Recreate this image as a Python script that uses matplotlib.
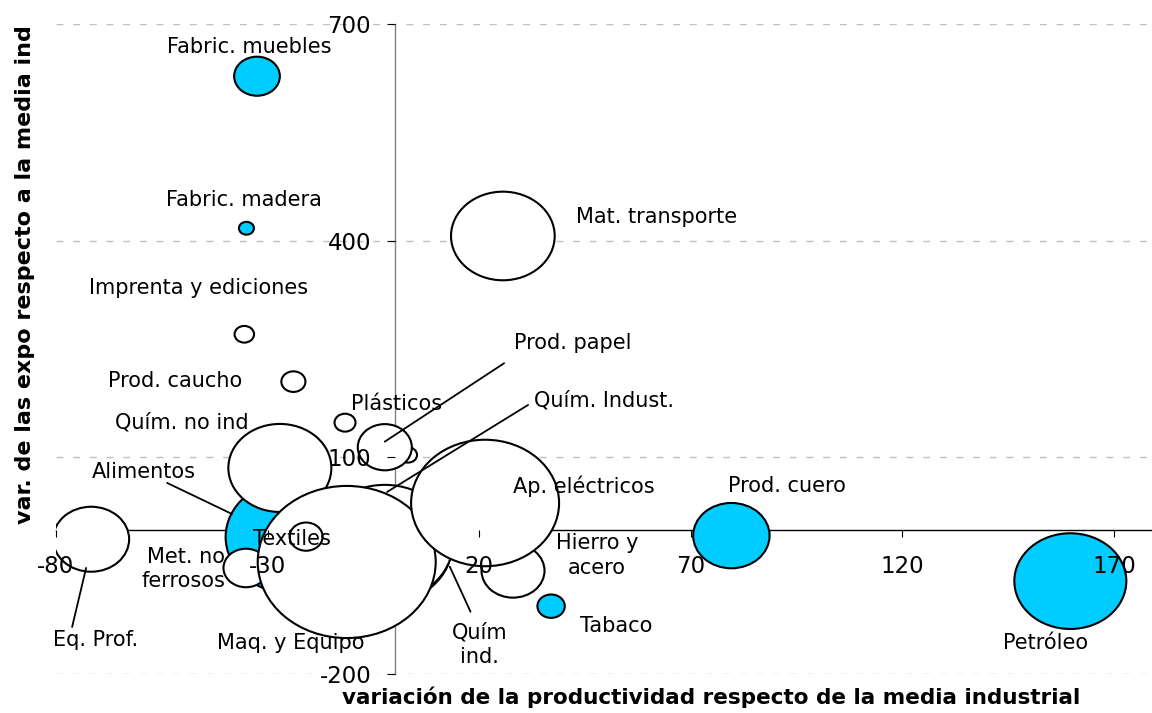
import numpy as np
import matplotlib
matplotlib.use("Agg")
import matplotlib.pyplot as plt
from matplotlib.path import Path
from matplotlib.transforms import Affine2D, offset_copy

# ---------------- data ----------------
sectores = ["Eq. Prof.", "Alimentos", "Quím. no ind", "Met. no\nferrosos",
            "Quím. Indust.", "Quím\nind.", "Hierro y\nacero", "Maq. y Equipo",
            "Ap. eléctricos", "Textiles", "", "Prod. papel", "Plásticos",
            "Prod. caucho", "Imprenta y ediciones", "Fabric. madera",
            "Fabric. muebles", "Mat. transporte", "Tabaco", "Prod. cuero",
            "Petróleo"]
productividad = [-71.7, -24.2, -27.1, -35.1, -2.7, -2.3, 28.0, -11.3, 21.4,
                 -20.9, 3.2, -2.3, -11.7, -23.9, -35.5, -35.0, -32.5, 25.6,
                 37.0, 79.6, 159.7]
exportaciones = [-13.4, -10.2, 85.3, -53.2, -21.3, -18.6, -57.0, -44.9, 36.8,
                 -9.8, 103.3, 114.0, 148.0, 204.8, 270.4, 417.2, 627.7, 406.5,
                 -106.1, -8.4, -71.4]
tamano = [57.8, 176.9, 106.1, 20.3, 190.4, 185.0, 39.7, 316.8, 219.0, 10.9,
          3.2, 29.2, 4.4, 5.8, 3.8, 2.25, 20.9, 107.5, 7.5, 58.4, 125.4]
sectores_azules = ["Alimentos", "Fabric. madera", "Fabric. muebles", "Tabaco",
                   "Prod. cuero", "Petróleo"]

xticks = [-80, -30, 20, 70, 120, 170]
yticks = [-200, 100, 400, 700]
xlabel = "variación de la productividad respecto de la media industrial"
ylabel = "var. de las expo respecto a la media ind"

# ---------------- layout (pixel offsets of labels from bubble centres) ----
etiquetas = {
    "Eq. Prof.": (4, -100.7, "center"),
    "Alimentos": (-148, 65, "center"),
    "Quím. no ind": (-98, 45.5, "center"),
    "Met. no\nferrosos": (-21, -1, "right"),
    "Quím. Indust.": (221, 144, "center"),
    "Quím\nind.": (95, -102, "center"),
    "Hierro y\nacero": (84, 15, "center"),
    "Maq. y Equipo": (-55.7, -81, "center"),
    "Ap. eléctricos": (99, 17, "center"),
    "Textiles": (-14, -2.8, "center"),
    "Prod. papel": (188, 104.3, "center"),
    "Plásticos": (52, 18.7, "center"),
    "Prod. caucho": (-118.3, 0.7, "center"),
    "Imprenta y ediciones": (-45.3, 46.3, "center"),
    "Fabric. madera": (-2.8, 28.3, "center"),
    "Fabric. muebles": (-8, 29.6, "center"),
    "Mat. transporte": (153.9, 19.3, "center"),
    "Tabaco": (64.7, -19.8, "center"),
    "Prod. cuero": (55.2, 49.7, "center"),
    "Petróleo": (-24.3, -61.8, "center"),
}
guias = {
    "Eq. Prof.": ((-19, -87.7), (-5, -28.7)),
    "Alimentos": ((-125, 54), (-60.3, 23)),
    "Quím. Indust.": ((145, 140), (4, 53)),
    "Quím\nind.": ((85.7, -68.7), (65, -23.7)),
    "Prod. papel": ((119.3, 84), (0, 5.6)),
}

plt.rcParams["font.family"] = ["DejaVu Sans"]
plt.rcParams["axes.unicode_minus"] = False

W, H = 1152, 713
fig = plt.figure(figsize=(W / 100, H / 100), dpi=100)
ax = fig.add_axes([56 / W, 39 / H, 1096 / W, 650 / H])
ax.set_xlim(-80, 179)
ax.set_ylim(-200, 700)

# grid lines (behind everything)
for yv in yticks:
    ax.axhline(yv, color="#c0c0c0", lw=1.0, ls=(0, (5, 7)), zorder=0.5)

# bubbles
ellipse = Path.unit_circle().transformed(Affine2D().scale(1.17, 1.0))
colores = ["#00CCFF" if s in sectores_azules else "white" for s in sectores]
ax.scatter(productividad, exportaciones, s=np.array(tamano) * 51.84,
           marker=ellipse, c=colores, edgecolors="black", linewidths=1.5,
           zorder=3)

# labels
for s, x, y in zip(sectores, productividad, exportaciones):
    if s in etiquetas:
        dx, dy, ha = etiquetas[s]
        ax.annotate(s, xy=(x, y), xytext=(dx * 0.72, dy * 0.72),
                    textcoords="offset points", ha=ha, va="center",
                    multialignment=ha, fontsize=15, zorder=6,
                    linespacing=1.3)
    if s in guias:
        (sx, sy), (ex, ey) = guias[s]
        ax.annotate("", xy=(x, y),
                    xycoords=offset_copy(ax.transData, fig=fig, x=ex, y=ey, units="dots"),
                    xytext=(x, y),
                    textcoords=offset_copy(ax.transData, fig=fig, x=sx, y=sy, units="dots"),
                    arrowprops=dict(arrowstyle="-", color="black", lw=1.3,
                                    shrinkA=0, shrinkB=0),
                    zorder=5)

# axes through the origin
for side in ["top", "right"]:
    ax.spines[side].set_visible(False)
ax.spines["left"].set_position(("data", 0))
ax.spines["bottom"].set_position(("data", 0))
ax.spines["left"].set_color("#808080")
ax.spines["bottom"].set_color("black")
for side in ["left", "bottom"]:
    ax.spines[side].set_zorder(1)
    ax.spines[side].set_linewidth(1.0)

ax.set_xticks(xticks)
ax.set_yticks(yticks)
ax.tick_params(axis="x", direction="out", length=5, width=0.8, pad=13,
               labelsize=16.5, color="black")
ax.tick_params(axis="y", direction="out", length=5.8, width=0.8, pad=11,
               labelsize=16.5, color="black")
ax.xaxis.set_zorder(4)
ax.yaxis.set_zorder(4)

ax.set_xlabel(xlabel, fontsize=15.5, fontweight="bold")
ax.xaxis.set_label_coords(0.598, -0.019)
ax.set_ylabel(ylabel, fontsize=16, fontweight="bold")
ax.yaxis.set_label_coords(-0.019, 0.615)

fig.savefig("out.png", dpi=100)
